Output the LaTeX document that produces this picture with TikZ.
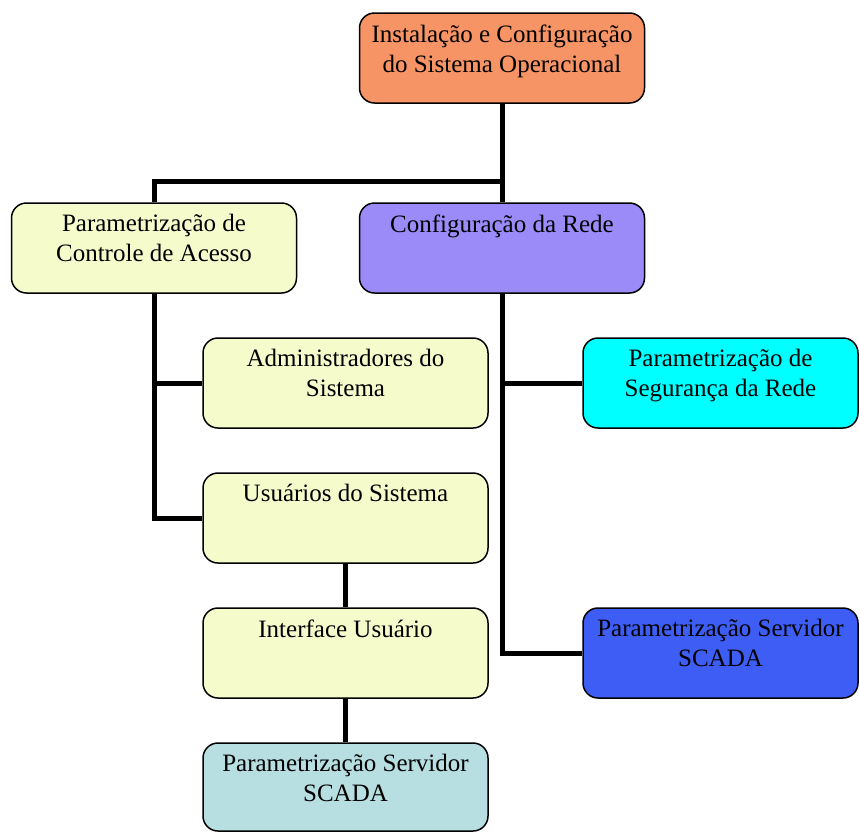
\documentclass[tikz,border=0pt]{standalone}
\usepackage{fontspec}
\setmainfont{Liberation Serif}
\definecolor{corange}{HTML}{F79466}
\definecolor{cyellow}{HTML}{F6FBCC}
\definecolor{cpurple}{HTML}{9B8BF9}
\definecolor{ccyan}{HTML}{00FFFF}
\definecolor{cblue}{HTML}{3D5DF5}
\definecolor{clblue}{HTML}{B7DEE1}
\begin{document}
\begin{tikzpicture}[x=1pt,y=-1pt,
  box/.style={draw=black,line width=1.5pt,rounded corners=15pt,minimum width=285pt,minimum height=90pt,inner sep=0pt},
  lbl/.style={anchor=north,inner sep=0pt,align=center,font=\fontsize{25}{30}\selectfont},
  conn/.style={line width=5pt,line cap=butt}]
\useasboundingbox (0,0) rectangle (859,831);
\node[box,fill=corange] (top) at (502,58) {};
\node[box,fill=cyellow] (pca) at (154,248) {};
\node[box,fill=cpurple] (rede) at (502,248) {};
\node[box,fill=cyellow] (adm) at (345.5,383) {};
\node[box,fill=ccyan,minimum width=275pt] (seg) at (720.5,383) {};
\node[box,fill=cyellow] (usu) at (345.5,518) {};
\node[box,fill=cyellow] (int) at (345.5,653) {};
\node[box,fill=cblue,minimum width=275pt] (scb) at (720.5,653) {};
\node[box,fill=clblue,minimum height=88pt] (scl) at (345.5,787) {};
\node[lbl] (ttop) at ([yshift=-12pt]top.north) {Instalação e Configuração\\do Sistema Operacional};
\node[lbl] (tpca) at ([yshift=-12pt]pca.north) {Parametrização de\\Controle de Acesso};
\node[lbl] (trede) at ([yshift=-12pt]rede.north) {Configuração da Rede};
\node[lbl] (tadm) at ([yshift=-12pt]adm.north) {Administradores do\\Sistema};
\node[lbl] (tseg) at ([yshift=-12pt]seg.north) {Parametrização de\\Segurança da Rede};
\node[lbl] (tusu) at ([yshift=-12pt]usu.north) {Usuários do Sistema};
\node[lbl] (tint) at ([yshift=-12pt]int.north) {Interface Usuário};
\node[lbl] (tscb) at ([yshift=-12pt]scb.north) {Parametrização Servidor\\SCADA};
\node[lbl] (tscl) at ([yshift=-12pt]scl.north) {Parametrização Servidor\\SCADA};
\coordinate (j) at (502,181);
\draw[conn] (top.south) -- (j) -- (rede.north);
\draw[conn] (j) -| (pca.north);
\draw[conn] (pca.south) |- (usu.west);
\draw[conn] (pca.south |- adm.west) -- (adm.west);
\draw[conn] (rede.south) |- (scb.west);
\draw[conn] (rede.south |- seg.west) -- (seg.west);
\draw[conn] (usu.south) -- (int.north);
\draw[conn] (int.south) -- (scl.north);
\end{tikzpicture}
\end{document}
